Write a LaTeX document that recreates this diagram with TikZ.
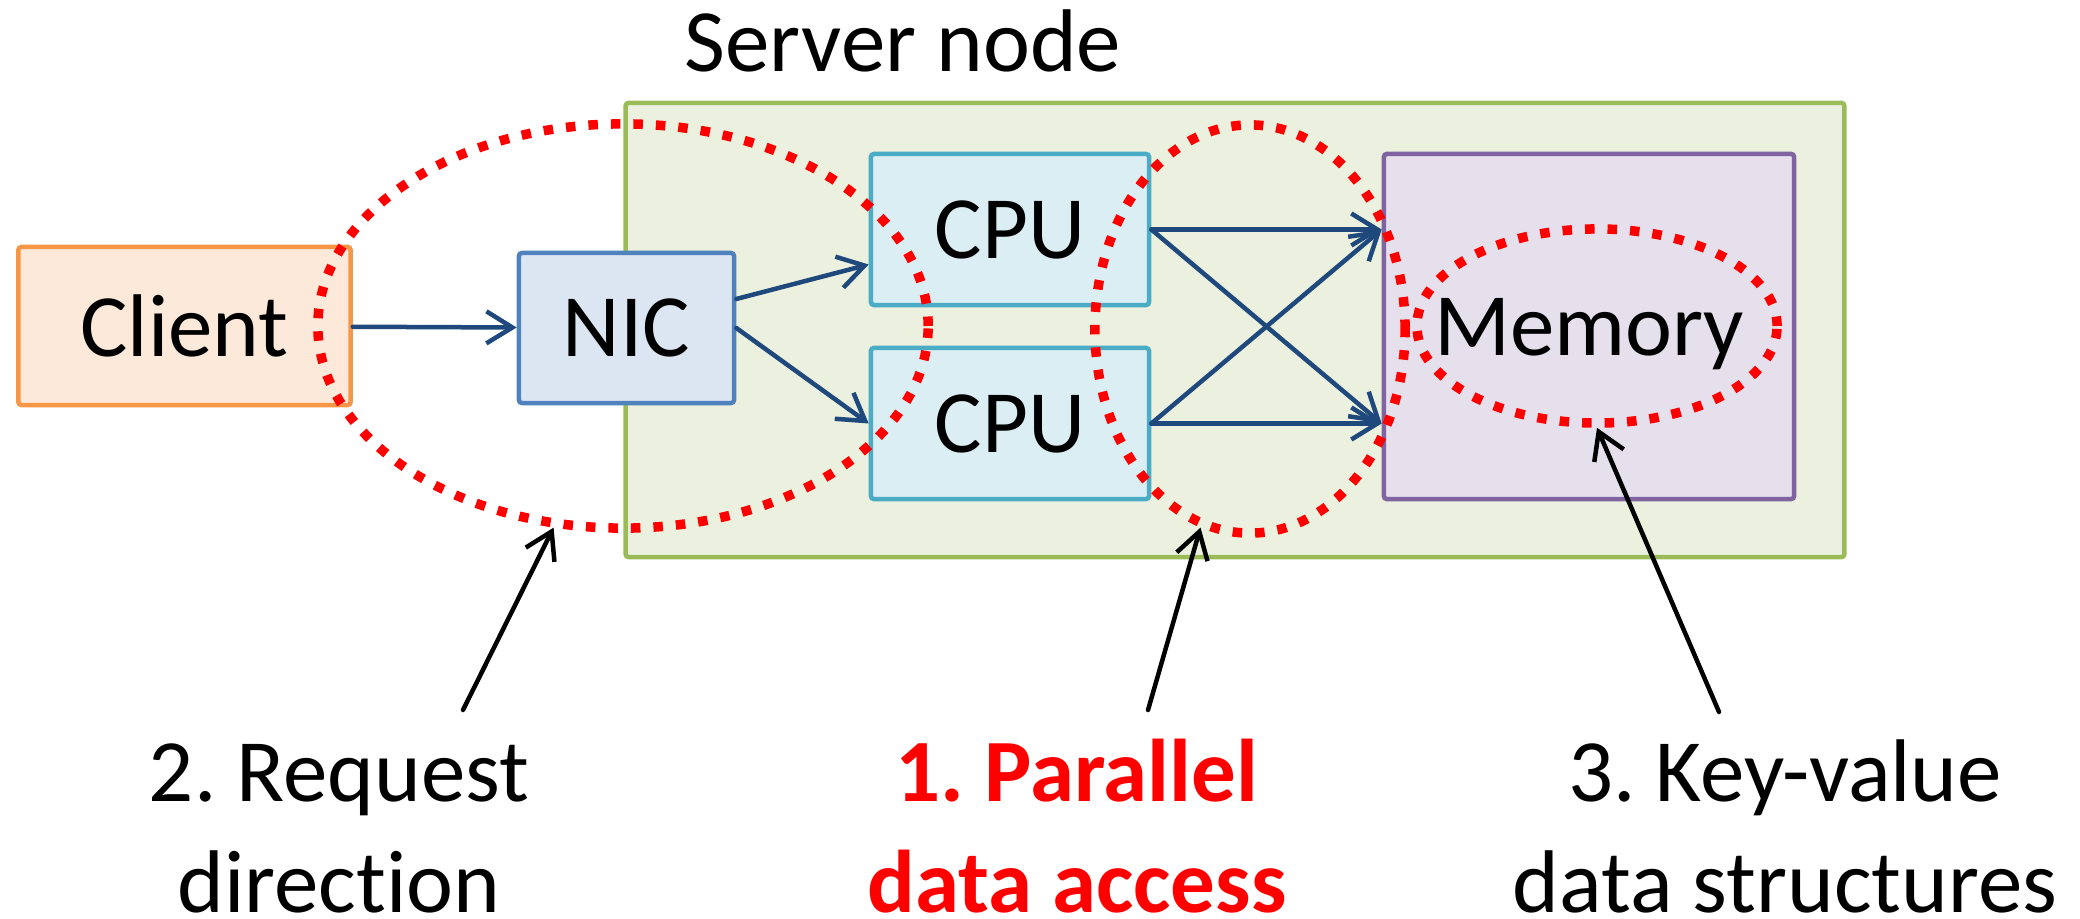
\documentclass[tikz,border=0pt]{standalone}
\usepackage{fontspec}
\setmainfont{Carlito}[Ligatures=NoCommon]
\usetikzlibrary{arrows.meta,shapes.geometric}
\frenchspacing

\definecolor{srvfill}{HTML}{EBF1DE}
\definecolor{srvline}{HTML}{9BBB59}
\definecolor{clifill}{HTML}{FDE9D9}
\definecolor{cliline}{HTML}{F79646}
\definecolor{nicfill}{HTML}{DCE6F2}
\definecolor{nicline}{HTML}{4F81BD}
\definecolor{cpufill}{HTML}{DAEEF3}
\definecolor{cpuline}{HTML}{4BACC6}
\definecolor{memfill}{HTML}{E5E0EC}
\definecolor{memline}{HTML}{8064A2}
\definecolor{linkblue}{HTML}{1F497D}

\begin{document}
\begin{tikzpicture}
        [x=0.01cm, y=-0.01cm,
        txt/.style={font=\fontsize{25.3}{31.3}\selectfont},
        box/.style={txt, draw, line width=0.45mm, rounded corners=0.3mm, inner sep=0pt, text depth=0pt},
        link/.style={linkblue, line width=0.45mm, line cap=round, -{Straight Barb[length=2.6mm, width=3.2mm]}},
        pointer/.style={black, line width=0.45mm, line cap=round, -{Straight Barb[length=2.6mm, width=3.2mm]}},
        area/.style={ellipse, draw=red, line width=0.95mm, dash pattern=on 0.95mm off 1.3mm, inner sep=0pt},
        note/.style={txt, align=center, anchor=base, inner sep=0pt}]

        \useasboundingbox (0,0) rectangle (2080,919);

        % server frame and its title
        \node[box, draw=srvline, fill=srvfill, minimum width=121.8mm, minimum height=45.4mm] (server) at (1235,330) {};
        \node[txt, anchor=base, inner sep=0pt] (title) at (903,72) {Server node};

        % boxes
        \node[box, draw=cliline, fill=clifill, minimum width=33.2mm, minimum height=15.8mm] (client) at (184.5,326) {Client};
        \node[box, draw=nicline, fill=nicfill, minimum width=21.5mm, minimum height=15mm] (nic) at (626.5,328) {NIC};
        \node[box, draw=cpuline, fill=cpufill, minimum width=27.8mm, minimum height=15.1mm] (cpuA) at (1010,229.5) {CPU};
        \node[box, draw=cpuline, fill=cpufill, minimum width=27.8mm, minimum height=15.1mm] (cpuB) at (1010,423.5) {CPU};
        \node[box, draw=memline, fill=memfill, minimum width=41mm, minimum height=34.5mm] (mem) at (1589,326.5) {Memory};

        % request path
        \draw[link] (client) -- (nic);
        \draw[link] ([yshift=2.9mm]nic.east) -- ([yshift=-3.5mm]cpuA.west);
        \draw[link] (nic.east) -- (cpuB.west);
        % every cpu reaches the memory
        \draw[link] (cpuA.east) -- (cpuA.east -| mem.west);
        \draw[link] (cpuA.east) -- (cpuB.east -| mem.west);
        \draw[link] (cpuB.east) -- (cpuB.east -| mem.west);
        \draw[link] (cpuB.east) -- (cpuA.east -| mem.west);

        % dotted regions
        \node[area, minimum width=61mm, minimum height=40.4mm] (reqarea) at (623,326) {};
        \node[area, minimum width=31mm, minimum height=40.8mm] (pararea) at (1250,329) {};
        \node[area, minimum width=36mm, minimum height=19.4mm] (kvarea) at (1597,326) {};

        % captions (base = baseline of the last line)
        \node[note] (reqnote) at (339,912) {2. Request\\direction};
        \node[note, text=red, font=\fontsize{25.3}{31.3}\selectfont\bfseries] (paranote) at (1077,912) {1. Parallel\\data access};
        \node[note] (kvnote) at (1785,912) {3. Key-value\\data structures};

        % pointers from captions to regions
        \coordinate (reqtail) at (463,710);
        \coordinate (paratail) at (1148,710);
        \coordinate (kvtail) at (1719,712);
        \draw[pointer] (reqtail) -- (reqarea.251);
        \draw[pointer] (paratail) -- (pararea.256);
        \draw[pointer] (kvtail) -- (kvarea.south);

\end{tikzpicture}
\end{document}
